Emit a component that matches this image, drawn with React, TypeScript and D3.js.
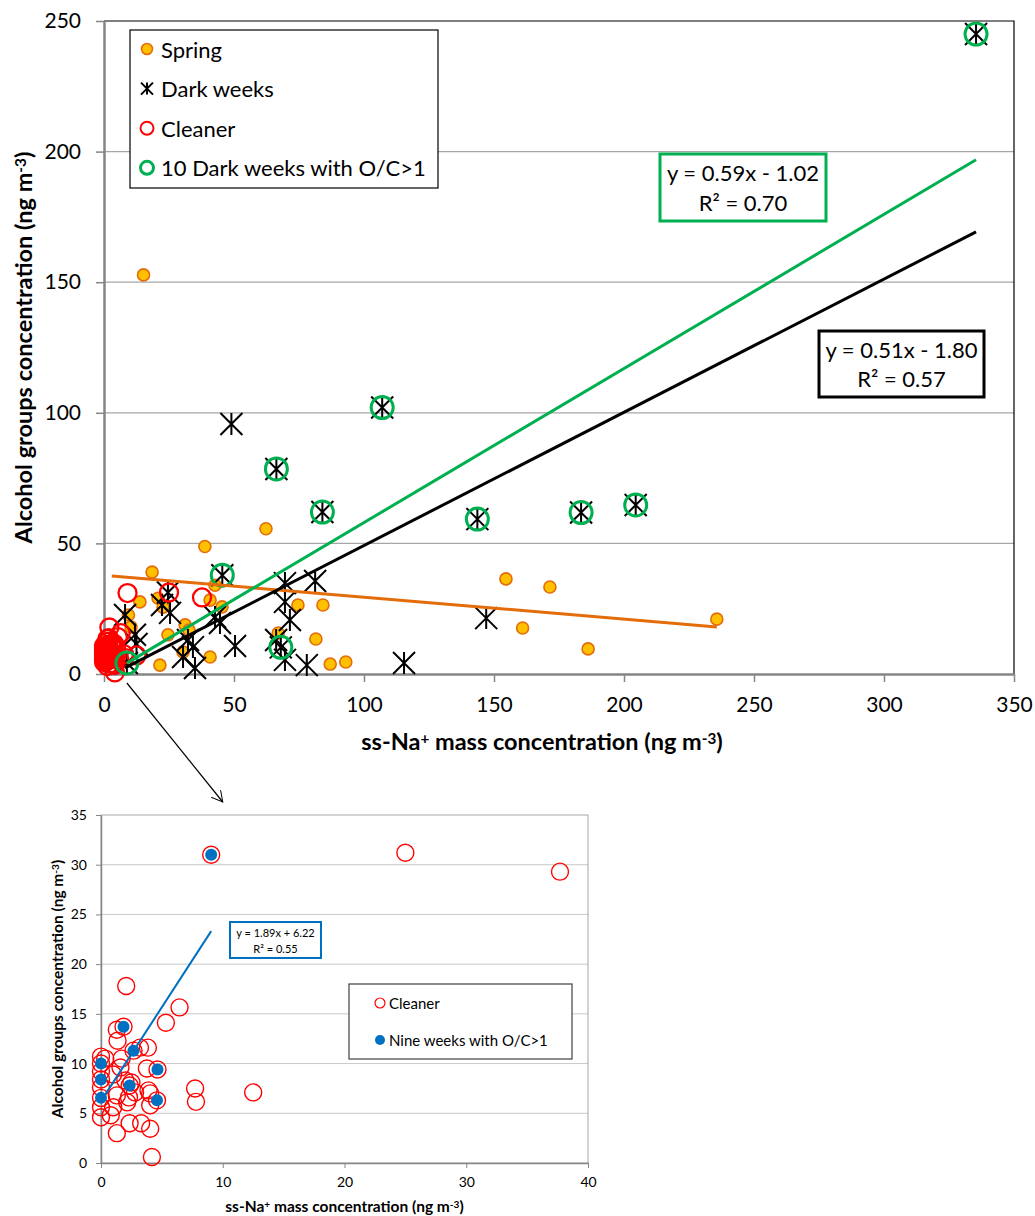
import React, { useRef, useEffect } from 'react';
import * as d3 from 'd3';

type Pt = [number, number];

// Spring weeks (ss-Na+, alcohol groups)
const springPoints: Pt[] = [
  [15.2, 152.8], [62.3, 55.6], [38.8, 48.8], [18.5, 39], [13.8, 27.6], [20.8, 29],
  [40.8, 28.3], [9.4, 22.6], [10.4, 18], [24.6, 15], [31.2, 18.8], [32.7, 16.8],
  [21.5, 3.4], [30.4, 8.4], [40.8, 6.5], [42.7, 34], [45.4, 25.7], [22.7, 25.6],
  [74.6, 26.4], [84.2, 26.4], [67, 15.7], [81.5, 13.4], [87, 3.8], [93, 4.6],
  [154.6, 36.4], [171.5, 33.3], [161, 17.6], [186.2, 9.6], [235.7, 21], [3.0, 12.5],
];

// Dark weeks
const darkWeekPoints: Pt[] = [
  [335.4, 245], [107, 102], [49, 95.7], [66.3, 78.5], [84, 62], [143.6, 59.3],
  [183.5, 61.8], [204.5, 64.7], [45.5, 37.8], [68, 10.2], [8.8, 4.2], [69.6, 34.8],
  [81.2, 35.6], [147, 21.4], [115.4, 4.2], [24.6, 31.2], [22.3, 26.4], [25.4, 23.4],
  [8.1, 22.6], [11.9, 15], [12.5, 11.5], [32.3, 13], [34.2, 10.3], [30.4, 6.5],
  [35, 2.3], [42.7, 21.8], [44.6, 19.5], [69.6, 27.6], [71.5, 20.7], [50.4, 10.7],
  [66.2, 13], [69.6, 5.4], [78, 3.4],
];

// 10 dark weeks with O/C > 1
const darkWeeksOC: Pt[] = [
  [335.4, 245], [107, 102], [66.3, 78.5], [84, 62], [143.6, 59.3],
  [183.5, 61.8], [204.5, 64.7], [45.5, 37.8], [68, 10.2], [8.8, 4.2],
];

// Cleaner weeks (shown in both panels)
const cleanerPoints: Pt[] = [
  [2.07, 17.8], [6.45, 15.65], [5.33, 14.1], [1.85, 13.7], [1.3, 13.4], [1.36, 12.3],
  [2.67, 11.3], [3.2, 11.6], [3.85, 11.6], [1.7, 10.5], [0, 10], [0, 10.7],
  [0.35, 10.5], [0, 8.4], [0, 9.2], [0, 7.6], [0, 6.55], [0, 5.6], [0, 4.6],
  [0.8, 4.8], [1.3, 3.0], [2.35, 4.0], [3.3, 4.0], [4.04, 3.45], [4.18, 0.6],
  [4.64, 9.4], [3.77, 9.5], [2.35, 7.8], [2.0, 8.3], [2.5, 8.1], [2.8, 7.1],
  [4.6, 6.3], [4.04, 7.0], [4.04, 5.8], [2.3, 6.6], [1.0, 8.9], [1.0, 5.6],
  [1.3, 6.8], [2.15, 6.1], [7.73, 7.5], [7.8, 6.15], [12.5, 7.1], [9.05, 31],
  [25, 31.2], [37.7, 29.3], [3.9, 7.3], [1.6, 9.6],
];

// Nine cleaner weeks with O/C > 1
const nineWeeksOC: Pt[] = [
  [9.05, 31], [1.85, 13.7], [2.67, 11.3], [0, 10], [0, 8.4], [0, 6.55],
  [4.64, 9.4], [2.35, 7.8], [4.6, 6.3],
];

const mainXTicks = [0, 50, 100, 150, 200, 250, 300, 350];
const mainYTicks = [0, 50, 100, 150, 200, 250];
const insetXTicks = [0, 10, 20, 30, 40];
const insetYTicks = [0, 5, 10, 15, 20, 25, 30, 35];

// linear fits: slope, intercept
const springFit = [-0.084, 37.8];
const darkFit = [0.51, -1.80];
const darkOCFit = [0.59, -1.02];
const nineFit = [1.89, 6.22];

const darkFitLabel = ['y = 0.51x - 1.80', 'R² = 0.57'];
const darkOCFitLabel = ['y = 0.59x - 1.02', 'R² = 0.70'];
const nineFitLabel = ['y = 1.89x + 6.22', 'R² = 0.55'];

const mainLegend = ['Spring', 'Dark weeks', 'Cleaner', '10 Dark weeks with O/C>1'];
const insetLegend = ['Cleaner', 'Nine weeks with O/C>1'];

const FONT = "Lato, 'Open Sans', sans-serif";
const ORANGE = '#e46c0a';
const YELLOW = '#ffc000';
const RED = '#ff0000';
const GREEN = '#00b050';
const BLUE = '#0070c0';

const xTitleParts: [string, boolean][] = [
  ['ss-Na', false], ['+', true], [' mass concentration (ng m', false], ['-3', true], [')', false],
];
const yTitleParts: [string, boolean][] = [
  ['Alcohol groups concentration (ng m', false], ['-3', true], [')', false],
];

const star = (cx: number, cy: number, s: number) =>
  `M${cx - s},${cy - s}L${cx + s},${cy + s}M${cx - s},${cy + s}L${cx + s},${cy - s}M${cx},${cy - s}L${cx},${cy + s}`;

const App: React.FC = () => {
  const svgRef = useRef<SVGSVGElement | null>(null);

  useEffect(() => {
    const svg = d3.select(svgRef.current);
    svg.selectAll('*').remove();
    svg.style('font-family', FONT);

    const rich = (sel: any, parts: [string, boolean][]) => {
      parts.forEach(([t, sup]) => {
        const ts = sel.append('tspan').text(t);
        if (sup) ts.attr('baseline-shift', '38%').style('font-size', '65%');
      });
    };

    // ---------- main chart ----------
    const x = d3.scaleLinear().domain([0, 350]).range([104, 1014]);
    const y = d3.scaleLinear().domain([0, 250]).range([674, 21]);

    const main = svg.append('g');

    main.selectAll('line.grid')
      .data(mainYTicks.filter(t => t > 0 && t < 250))
      .enter().append('line')
      .attr('x1', x(0)).attr('x2', x(350))
      .attr('y1', d => y(d)).attr('y2', d => y(d))
      .attr('stroke', '#a6a6a6').attr('stroke-width', 1.3);

    main.append('path')
      .attr('d', `M${x(0)},${y(250)}H${x(350)}V${y(0)}`)
      .attr('fill', 'none').attr('stroke', '#000').attr('stroke-width', 1.2);

    const yAxis = main.append('g')
      .attr('transform', `translate(${x(0)},0)`)
      .call(d3.axisLeft(y).tickValues(mainYTicks).tickSize(8).tickSizeOuter(0).tickPadding(15).tickFormat(d3.format('d')));
    const xAxis = main.append('g')
      .attr('transform', `translate(0,${y(0)})`)
      .call(d3.axisBottom(x).tickValues(mainXTicks).tickSize(8).tickSizeOuter(0).tickPadding(15).tickFormat(d3.format('d')));
    [yAxis, xAxis].forEach(a => {
      a.select('.domain').attr('stroke', '#868686').attr('stroke-width', 2.5);
      a.selectAll('.tick line').attr('stroke', '#868686').attr('stroke-width', 1.5);
      a.selectAll('.tick text').attr('fill', '#000').style('font-size', '21px').style('font-family', FONT);
    });

    // spring
    main.append('g').selectAll('circle')
      .data(springPoints).enter().append('circle')
      .attr('cx', d => x(d[0])).attr('cy', d => y(d[1])).attr('r', 6)
      .attr('fill', YELLOW).attr('stroke', ORANGE).attr('stroke-width', 1.6);

    // dark weeks
    main.append('g').selectAll('path')
      .data(darkWeekPoints).enter().append('path')
      .attr('d', d => star(x(d[0]), y(d[1]), 11))
      .attr('stroke', '#000').attr('stroke-width', 2).attr('fill', 'none');

    // cleaner
    main.append('g').selectAll('circle')
      .data(cleanerPoints).enter().append('circle')
      .attr('cx', d => x(d[0])).attr('cy', d => y(d[1])).attr('r', 9)
      .attr('fill', 'none').attr('stroke', RED).attr('stroke-width', 2.3);

    // dark weeks O/C>1
    main.append('g').selectAll('circle')
      .data(darkWeeksOC).enter().append('circle')
      .attr('cx', d => x(d[0])).attr('cy', d => y(d[1])).attr('r', 11)
      .attr('fill', 'none').attr('stroke', GREEN).attr('stroke-width', 3);

    const fitLine = (g: any, sx: any, sy: any, pts: Pt[], fit: number[], color: string, w: number) => {
      const [x0, x1] = d3.extent(pts, d => d[0]) as [number, number];
      g.append('path')
        .datum([x0, x1])
        .attr('d', d3.line<number>().x(v => sx(v)).y(v => sy(fit[0] * v + fit[1])))
        .attr('fill', 'none').attr('stroke', color).attr('stroke-width', w);
    };
    fitLine(main, x, y, springPoints, springFit, ORANGE, 3);
    fitLine(main, x, y, darkWeekPoints, darkFit, '#000', 3);
    fitLine(main, x, y, darkWeeksOC, darkOCFit, GREEN, 3);

    const eqBox = (g: any, bx: number, by: number, bw: number, bh: number, lines: string[], color: string, sw: number, fs: number, gap: number) => {
      g.append('rect').attr('x', bx).attr('y', by).attr('width', bw).attr('height', bh)
        .attr('fill', '#fff').attr('stroke', color).attr('stroke-width', sw);
      lines.forEach((t, i) => {
        g.append('text').attr('x', bx + bw / 2).attr('y', by + bh / 2 + (i - 0.5) * gap)
          .attr('text-anchor', 'middle').attr('dominant-baseline', 'central')
          .style('font-size', `${fs}px`).attr('fill', '#000').text(t);
      });
    };
    eqBox(main, 660, 154, 166, 67, darkOCFitLabel, GREEN, 3, 22, 30);
    eqBox(main, 819, 331, 165, 66, darkFitLabel, '#000', 3, 22, 29);

    // legend
    const lg = main.append('g');
    lg.append('rect').attr('x', 130).attr('y', 30).attr('width', 308).attr('height', 158)
      .attr('fill', '#fff').attr('stroke', '#000').attr('stroke-width', 1.2);
    mainLegend.forEach((t, i) => {
      const cy = 49 + i * 39.6;
      if (i === 0) lg.append('circle').attr('cx', 147).attr('cy', cy).attr('r', 5.5)
        .attr('fill', YELLOW).attr('stroke', ORANGE).attr('stroke-width', 1.6);
      if (i === 1) lg.append('path').attr('d', star(147, cy, 6)).attr('stroke', '#000').attr('stroke-width', 2);
      if (i === 2) lg.append('circle').attr('cx', 147).attr('cy', cy).attr('r', 6.5)
        .attr('fill', 'none').attr('stroke', RED).attr('stroke-width', 2);
      if (i === 3) lg.append('circle').attr('cx', 147).attr('cy', cy).attr('r', 6.5)
        .attr('fill', 'none').attr('stroke', GREEN).attr('stroke-width', 3);
      lg.append('text').attr('x', 161).attr('y', cy).attr('dominant-baseline', 'central')
        .style('font-size', '22px').attr('fill', '#000').text(t);
    });

    // axis titles
    rich(main.append('text')
      .attr('x', 542).attr('y', 750)
      .attr('text-anchor', 'middle').style('font-size', '23.5px').style('font-weight', 'bold'), xTitleParts);
    rich(main.append('text')
      .attr('transform', `translate(32,${(y(0) + y(250)) / 2}) rotate(-90)`)
      .attr('text-anchor', 'middle').style('font-size', '23.5px').style('font-weight', 'bold'), yTitleParts);

    // ---------- inset ----------
    const xi = d3.scaleLinear().domain([0, 40]).range([101, 588]);
    const yi = d3.scaleLinear().domain([0, 35]).range([1163, 815]);
    const ins = svg.append('g');

    ins.selectAll('line.grid')
      .data(insetYTicks.filter(t => t > 0 && t < 35))
      .enter().append('line')
      .attr('x1', xi(0)).attr('x2', xi(40))
      .attr('y1', d => yi(d)).attr('y2', d => yi(d))
      .attr('stroke', '#c8c8c8').attr('stroke-width', 1);
    ins.append('rect').attr('x', xi(0)).attr('y', yi(35))
      .attr('width', xi(40) - xi(0)).attr('height', yi(0) - yi(35))
      .attr('fill', 'none').attr('stroke', '#a6a6a6').attr('stroke-width', 1);

    const yiAxis = ins.append('g').attr('transform', `translate(${xi(0)},0)`)
      .call(d3.axisLeft(yi).tickValues(insetYTicks).tickSize(5).tickSizeOuter(0).tickPadding(9));
    const xiAxis = ins.append('g').attr('transform', `translate(0,${yi(0)})`)
      .call(d3.axisBottom(xi).tickValues(insetXTicks).tickSize(5).tickSizeOuter(0).tickPadding(9));
    [yiAxis, xiAxis].forEach(a => {
      a.select('.domain').attr('stroke', '#868686').attr('stroke-width', 1.5);
      a.selectAll('.tick line').attr('stroke', '#868686');
      a.selectAll('.tick text').attr('fill', '#000').style('font-size', '14px').style('font-family', FONT);
    });

    ins.append('g').selectAll('circle')
      .data(cleanerPoints).enter().append('circle')
      .attr('cx', d => xi(d[0])).attr('cy', d => yi(d[1])).attr('r', 8.5)
      .attr('fill', 'none').attr('stroke', RED).attr('stroke-width', 1.4);
    ins.append('g').selectAll('circle')
      .data(nineWeeksOC).enter().append('circle')
      .attr('cx', d => xi(d[0])).attr('cy', d => yi(d[1])).attr('r', 6)
      .attr('fill', BLUE);

    fitLine(ins, xi, yi, nineWeeksOC, nineFit, BLUE, 2);
    eqBox(ins, 230, 922, 91, 36, nineFitLabel, BLUE, 2, 11, 16);

    const il = ins.append('g');
    il.append('rect').attr('x', 349).attr('y', 984).attr('width', 223).attr('height', 75)
      .attr('fill', '#fff').attr('stroke', '#404040').attr('stroke-width', 1.2);
    insetLegend.forEach((t, i) => {
      const cy = 1003 + i * 37;
      if (i === 0) il.append('circle').attr('cx', 380).attr('cy', cy).attr('r', 5)
        .attr('fill', 'none').attr('stroke', RED).attr('stroke-width', 1.2);
      else il.append('circle').attr('cx', 380).attr('cy', cy).attr('r', 5).attr('fill', BLUE);
      il.append('text').attr('x', 389).attr('y', cy).attr('dominant-baseline', 'central')
        .style('font-size', '15px').attr('fill', '#000').text(t);
    });

    rich(ins.append('text')
      .attr('x', (xi(0) + xi(40)) / 2).attr('y', 1212)
      .attr('text-anchor', 'middle').style('font-size', '15.5px').style('font-weight', 'bold'), xTitleParts);
    rich(ins.append('text')
      .attr('transform', `translate(63,${(yi(0) + yi(35)) / 2}) rotate(-90)`)
      .attr('text-anchor', 'middle').style('font-size', '15.5px').style('font-weight', 'bold'), yTitleParts);

    // arrow from main cluster to inset
    const defs = svg.append('defs');
    defs.append('marker').attr('id', 'arrowhead').attr('viewBox', '0 0 12 12')
      .attr('refX', 11).attr('refY', 6).attr('markerWidth', 12).attr('markerHeight', 12)
      .attr('markerUnits', 'userSpaceOnUse').attr('orient', 'auto')
      .append('path').attr('d', 'M0,0L11,6L0,12').attr('fill', 'none').attr('stroke', '#000').attr('stroke-width', 1);
    svg.append('line')
      .attr('x1', x(8.8)).attr('y1', y(0) + 9)
      .attr('x2', xi(10)).attr('y2', yi(35) - 13)
      .attr('stroke', '#000').attr('stroke-width', 1.2).attr('marker-end', 'url(#arrowhead)');
  }, []);

  return (
    <div style={{ position: 'absolute', left: 0, top: 0 }}>
      <svg ref={svgRef} width={1035} height={1216}></svg>
    </div>
  );
};

export default App;
